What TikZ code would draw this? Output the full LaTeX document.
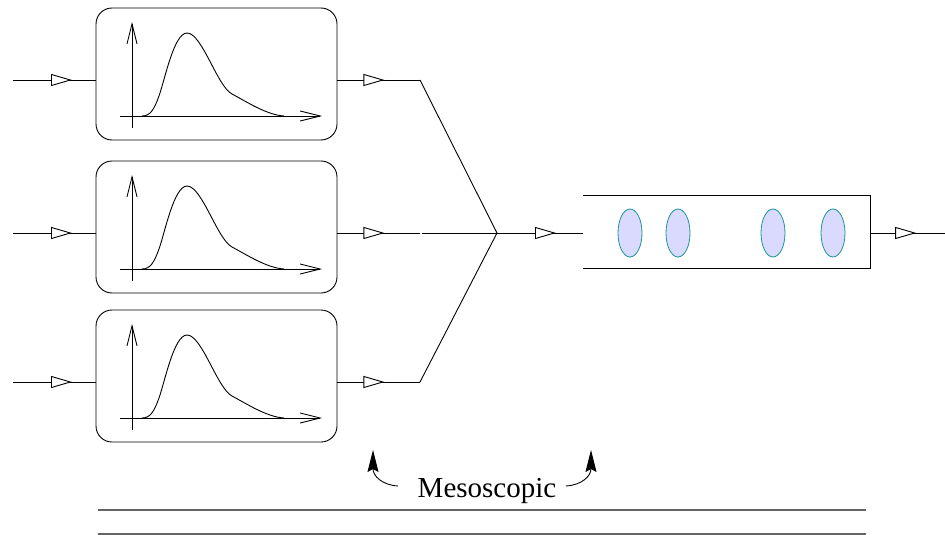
\documentclass[tikz,border=0pt]{standalone}
\usepackage{fontspec}
\setmainfont{Liberation Serif}
\usetikzlibrary{arrows.meta,decorations.markings,shapes.geometric}
\definecolor{cellfill}{RGB}{218,218,255}
\definecolor{celledge}{RGB}{25,150,150}
\definecolor{rulegray}{RGB}{100,100,100}
\tikzset{
 stage/.style={draw, rounded corners=16pt, minimum width=241pt, minimum height=132pt, inner sep=0pt, line width=0.9pt},
 cell/.style={ellipse, draw=celledge, fill=cellfill, minimum width=24pt, minimum height=48pt, inner sep=0pt, line width=0.8pt},
 wire/.style={line width=0.9pt},
 openhead/.style={postaction={decorate}, decoration={markings, mark=at position #1 with {\arrow{Triangle[length=21pt,width=12pt,fill=white,line width=0.9pt]}}}},
 axisline/.style={line width=0.9pt, -{Straight Barb[length=20pt,width=10pt,line width=0.9pt]}},
 bump/.style={line width=0.9pt},
 lift/.style={line width=0.9pt, -{Stealth[length=22pt,width=11pt,inset=3pt]}},
 rulestyle/.style={draw=rulegray, line width=1.5pt}
}
\begin{document}
\begin{tikzpicture}[x=1pt,y=-1pt]
\useasboundingbox (0,0) rectangle (945,535);
% three stages
\foreach \n/\t/\m in {1/8/80,2/161/233,3/310/382} {
  \node[stage] (b\n) at (216.5,\t+66) {};
  \coordinate (in\n) at (13,\m);
  \coordinate (mid\n) at (420,\m);
  \draw[wire,openhead=59pt] (in\n) -- (in\n -| b\n.west);
  \draw[wire,openhead=47pt] (b\n.east |- mid\n) -- (mid\n);
  \begin{scope}[shift={(132,\t+108)}]
    \draw[axisline] (0,12) -- (0,-94);
    \draw[axisline] (-12,0) -- (190,0);
    \draw[bump] (10,0) .. controls (18,0) and (22,-6) .. (27,-20)
      .. controls (33,-37) and (42,-83) .. (55,-83)
      .. controls (70,-83) and (85,-30) .. (100,-22)
      .. controls (115,-14) and (135,-1) .. (152,0);
  \end{scope}
}
% junction
\coordinate (j) at (497,233);
\draw[wire] (mid1) -- (j);
\draw[wire] (mid3) -- (j);
\draw[wire] ([xshift=1.5pt]mid2) -- (j);
% tube
\node[minimum width=287pt, minimum height=72pt, inner sep=0pt] (tube) at (726.5,232) {};
\draw[wire] (tube.north west) -- (tube.north east) -- (tube.south east) -- (tube.south west);
\draw[wire,openhead=59pt] (j) -- (j -| tube.west);
\coordinate (out) at (945,233);
\draw[wire,openhead=46pt] (tube.east |- j) -- (out);
\foreach \x [count=\k] in {630,678,773,833} \node[cell] (c\k) at (\x,233) {};
% label
\node[font=\fontsize{29}{34}\selectfont, anchor=base, inner sep=0pt] (meso) at (487,497) {Mesoscopic};
\coordinate (lt) at (373,450);
\coordinate (rt) at (591,450);
\coordinate (ls) at (398,486);
\coordinate (rs) at (566,486);
\draw[lift] (ls) .. controls (382,485) and (373,476) .. (lt);
\draw[lift] (rs) .. controls (582,485) and (591,476) .. (rt);
% rules
\draw[rulestyle] (98,510) -- (866,510);
\draw[rulestyle] (98,534) -- (866,534);
\end{tikzpicture}
\end{document}
